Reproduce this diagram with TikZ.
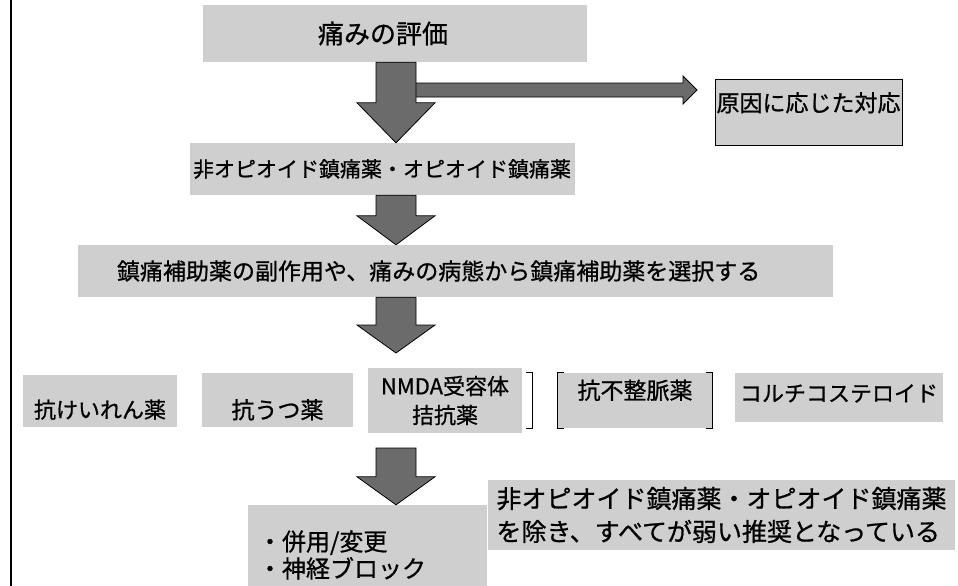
\documentclass[tikz,border=0pt]{standalone}
\usepackage{fontspec}
\setmainfont{Noto Sans CJK JP}[FakeBold=0.8]
\usetikzlibrary{calc}

\definecolor{boxgray}{gray}{0.81}
\definecolor{arrowgray}{gray}{0.42}
\newcommand{\jsize}[2]{\fontsize{#1pt}{#2pt}\selectfont}

\tikzset{
  graybox/.style={fill=boxgray, inner sep=0pt},
  fatarrow/.style={fill=arrowgray, draw=black, line width=0.8pt},
  brk/.style={draw=black, line width=1pt},
}

% fat block arrows: top point, tip point, head length
\newcommand{\fatdown}[3]{%
  \path[fatarrow] let \p1=#1, \p2=#2 in
    (\x1-20pt,\y1) -- (\x1+20pt,\y1) -- (\x1+20pt,\y2+#3) -- (\x1+39pt,\y2+#3)
    -- (\x1,\y2) -- (\x1-39pt,\y2+#3) -- (\x1-20pt,\y2+#3) -- cycle;}
\newcommand{\fatright}[2]{%
  \path[fatarrow] let \p1=#1, \p2=#2 in
    (\x1,\y1+7pt) -- (\x2-14pt,\y1+7pt) -- (\x2-14pt,\y1+14pt) -- (\x2,\y1)
    -- (\x2-14pt,\y1-14pt) -- (\x2-14pt,\y1-7pt) -- (\x1,\y1-7pt) -- cycle;}

\begin{document}
\begin{tikzpicture}[x=1pt,y=-1pt]
\useasboundingbox (0,0) rectangle (958,586);
\draw[line width=1.5pt] (11,-2) -- (11,590);
\coordinate (axis) at (396,0);

\node[graybox, minimum height=57pt, text width=154pt, inner xsep=115pt, align=left,
      font=\jsize{26}{30}] (eval) at (395,33.5) {痛みの評価};
\node[graybox, draw=black, line width=0.8pt, minimum width=187pt, minimum height=66pt,
      text height=20pt, text depth=21pt, font=\jsize{23}{27}] (cause) at (808.5,112) {原因に応じた対応};
\node[graybox, minimum width=385pt, minimum height=52pt,
      font=\jsize{21}{25}] (drugs) at (382,169) {非オピオイド鎮痛薬・オピオイド鎮痛薬};
\node[graybox, minimum height=52pt, text width=677pt, inner xsep=39pt, align=left,
      font=\jsize{23}{27}] (adjuvant) at (455.5,271)
      {鎮痛補助薬の副作用や、痛みの病態から鎮痛補助薬を選択する};

  %row of adjuvant drugs
  \node[graybox, minimum width=154pt, minimum height=52pt, text height=37pt, text depth=3pt,
        font=\jsize{22}{26}] (anticonv) at (100,401) {抗けいれん薬};
  \node[graybox, minimum width=151pt, minimum height=54pt, text height=40pt, text depth=3pt,
        font=\jsize{23}{27}] (antidep) at (277.5,400) {抗うつ薬};
  \node[graybox, minimum width=154pt, minimum height=65pt, align=center,
        font=\jsize{22}{29}] (nmda) at (445,400.5) {NMDA受容体\\拮抗薬};
  \node[graybox, minimum width=154pt, minimum height=55pt, text height=20pt, text depth=23pt,
        font=\jsize{23}{27}] (antiarr) at (635,400.5) {抗不整脈薬};
  \node[graybox, minimum width=208pt, minimum height=49pt, text height=19pt, text depth=11pt,
        font=\jsize{22}{26}] (steroid) at (839,397.5) {コルチコステロイド};
  \draw[brk] ($(nmda.north east)+(4,5)$) -- ($(nmda.north east)+(10,5)$)
    -- ($(nmda.south east)+(10,-5)$) -- ($(nmda.south east)+(4,-5)$);
  \draw[brk] ($(antiarr.north west)+(6,0)$) -- (antiarr.north west)
    -- (antiarr.south west) -- ($(antiarr.south west)+(6,0)$);
  \draw[brk] ($(antiarr.north east)+(-6,0)$) -- (antiarr.north east)
    -- (antiarr.south east) -- ($(antiarr.south east)+(-6,0)$);

\node[graybox, minimum height=100pt, text width=219pt, inner xsep=10pt, align=left,
      font=\jsize{24}{27}] (combo) at (367.5,555) {・併用/変更\\・神経ブロック};
\node[graybox, minimum width=467pt, minimum height=70pt, align=left,
      font=\jsize{25}{33}] (note) at (721.5,515)
      {非オピオイド鎮痛薬・オピオイド鎮痛薬\\を除き、すべてが弱い推奨となっている};

  %arrows
  \coordinate (hstart) at (415,90);
  \coordinate (htip) at (697,90);
  \coordinate (a3tip) at (396,353);
  \coordinate (a4top) at (396,448);
  \fatright{(hstart)}{(htip)}
  \fatdown{(eval.south -| axis)}{(drugs.north -| axis)}{40pt}
  \fatdown{(drugs.south -| axis)}{(adjuvant.north -| axis)}{29pt}
  \fatdown{(adjuvant.south -| axis)}{(a3tip)}{28pt}
  \fatdown{(a4top)}{(combo.north -| axis)}{28pt}
\end{tikzpicture}
\end{document}
